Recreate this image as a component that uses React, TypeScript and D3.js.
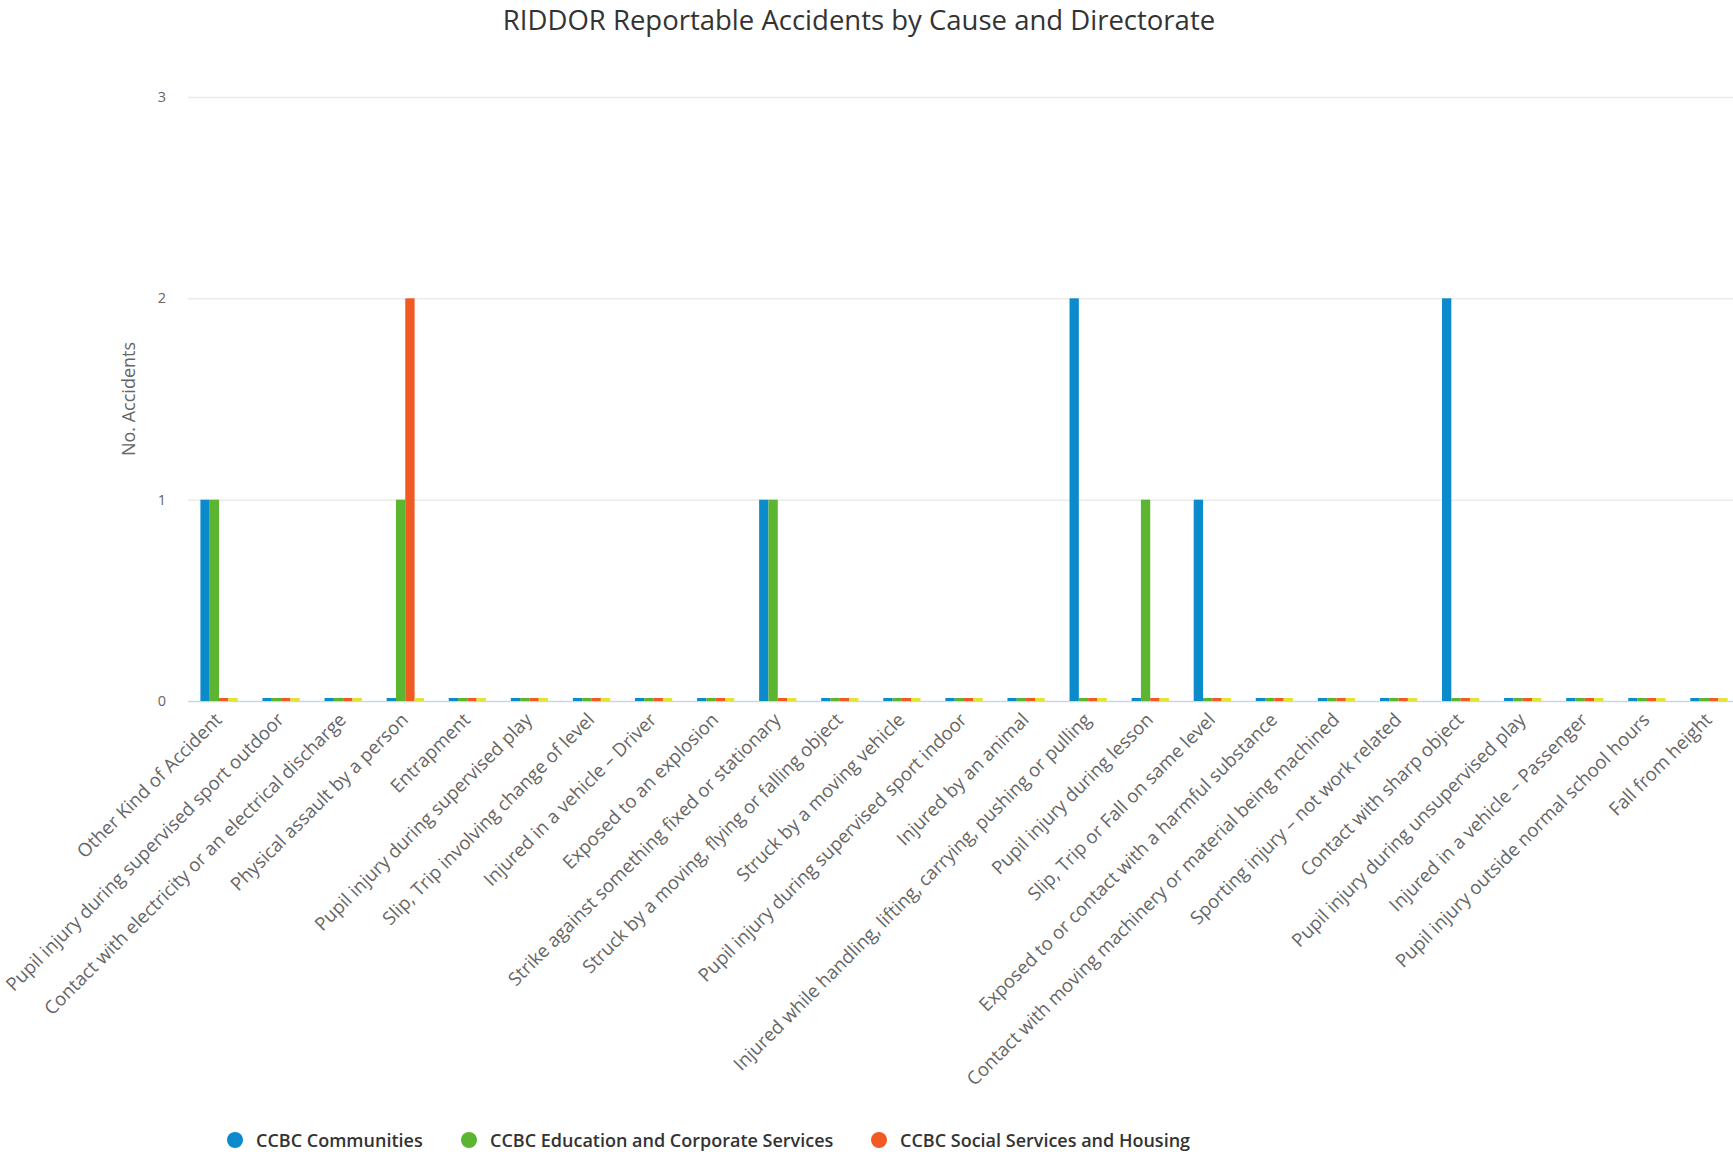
import React from "react";
import * as d3 from "d3";

const title = "RIDDOR Reportable Accidents by Cause and Directorate";
const yAxisTitle = "No. Accidents";

const categories: string[] = [
  "Other Kind of Accident",
  "Pupil injury during supervised sport outdoor",
  "Contact with electricity or an electrical discharge",
  "Physical assault by a person",
  "Entrapment",
  "Pupil injury during supervised play",
  "Slip, Trip involving change of level",
  "Injured in a vehicle – Driver",
  "Exposed to an explosion",
  "Strike against something fixed or stationary",
  "Struck by a moving, flying or falling object",
  "Struck by a moving vehicle",
  "Pupil injury during supervised sport indoor",
  "Injured by an animal",
  "Injured while handling, lifting, carrying, pushing or pulling",
  "Pupil injury during lesson",
  "Slip, Trip or Fall on same level",
  "Exposed to or contact with a harmful substance",
  "Contact with moving machinery or material being machined",
  "Sporting injury – not work related",
  "Contact with sharp object",
  "Pupil injury during unsupervised play",
  "Injured in a vehicle – Passenger",
  "Pupil injury outside normal school hours",
  "Fall from height",
];

const communities = [1, 0, 0, 0, 0, 0, 0, 0, 0, 1, 0, 0, 0, 0, 2, 0, 1, 0, 0, 0, 2, 0, 0, 0, 0];
const education = [1, 0, 0, 1, 0, 0, 0, 0, 0, 1, 0, 0, 0, 0, 0, 1, 0, 0, 0, 0, 0, 0, 0, 0, 0];
const socialServices = [0, 0, 0, 2, 0, 0, 0, 0, 0, 0, 0, 0, 0, 0, 0, 0, 0, 0, 0, 0, 0, 0, 0, 0, 0];
const otherSeries = [0, 0, 0, 0, 0, 0, 0, 0, 0, 0, 0, 0, 0, 0, 0, 0, 0, 0, 0, 0, 0, 0, 0, 0, 0];

const seriesNames = [
  "CCBC Communities",
  "CCBC Education and Corporate Services",
  "CCBC Social Services and Housing",
  "Other",
];
const seriesColors = ["#0b8bcc", "#5cb531", "#f15a22", "#e2e332"];
const seriesValues = [communities, education, socialServices, otherSeries];
const legendCount = 3;

const yTicks = [0, 1, 2, 3];

const W = 1733;
const H = 1154;
const plotLeft = 188;
const plotRight = 1740;
const plotTop = 97;
const plotBottom = 701;
const font = "'Open Sans', sans-serif";

export default function App() {
  const x0 = d3.scaleBand<string>().domain(categories).range([plotLeft, plotRight]).padding(0);
  const bw = x0.bandwidth();
  const x1 = d3
    .scaleBand<string>()
    .domain(seriesNames)
    .range([bw * 0.2, bw * 0.8])
    .padding(0);
  const y = d3.scaleLinear().domain([0, 3]).range([plotBottom, plotTop]);

  const legendX = [235, 469, 879];

  return (
    <svg
      width={W}
      height={H}
      style={{ position: "absolute", left: 0, top: 0, background: "#fff" }}
      fontFamily={font}
    >
      <text x={859} y={30} textAnchor="middle" fontSize={27.5} fill="#333">
        {title}
      </text>

      {yTicks.map((t) => (
        <g key={t}>
          <line
            x1={plotLeft}
            x2={W}
            y1={y(t) + 0.5}
            y2={y(t) + 0.5}
            stroke={t === 0 ? "#ccd6eb" : "#ebebeb"}
            strokeWidth={1.5}
          />
          <text x={166} y={y(t) + 5} textAnchor="end" fontSize={14.5} fill="#666">
            {t}
          </text>
        </g>
      ))}

      <text
        transform={`translate(135,${(plotTop + plotBottom) / 2}) rotate(-90)`}
        textAnchor="middle"
        fontSize={18}
        fill="#666"
      >
        {yAxisTitle}
      </text>

      {categories.map((c, i) => (
        <g key={c} transform={`translate(${x0(c)},0)`}>
          {seriesNames.map((s, j) => {
            const v = seriesValues[j][i];
            const top = v === 0 ? y(0) - 3 : y(v);
            return (
              <rect
                key={s}
                x={x1(s)}
                y={top}
                width={x1.bandwidth()}
                height={y(0) - top}
                fill={seriesColors[j]}
              />
            );
          })}
        </g>
      ))}

      {categories.map((c) => {
        const cx = (x0(c) as number) + bw / 2 + 4;
        const cy = plotBottom + 20;
        return (
          <text
            key={c}
            transform={`translate(${cx},${cy}) rotate(-45)`}
            textAnchor="end"
            fontSize={18.6}
            fill="#666"
          >
            {c}
          </text>
        );
      })}

      {seriesNames.slice(0, legendCount).map((s, j) => (
        <g key={s} transform={`translate(${legendX[j]},1140)`}>
          <circle cx={0} cy={0} r={8} fill={seriesColors[j]} />
          <text x={21} y={6.5} fontSize={18} fontWeight={600} fill="#333">
            {s}
          </text>
        </g>
      ))}
    </svg>
  );
}
